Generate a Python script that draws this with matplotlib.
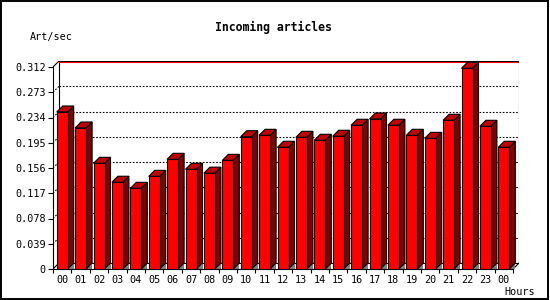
import numpy as np
import matplotlib.pyplot as plt
from matplotlib.patches import Polygon, Rectangle

hours = ['00', '01', '02', '03', '04', '05', '06', '07', '08', '09', '10', '11',
         '12', '13', '14', '15', '16', '17', '18', '19', '20', '21', '22', '23', '00']
art_sec = [0.2425, 0.2178, 0.1632, 0.134, 0.1246, 0.1431, 0.1694, 0.154, 0.148,
           0.1678, 0.2043, 0.2065, 0.188, 0.2034, 0.1988, 0.205, 0.222, 0.2317,
           0.222, 0.2065, 0.2018, 0.2297, 0.310, 0.2204, 0.188]
yticks = [0, 0.039, 0.078, 0.117, 0.156, 0.195, 0.234, 0.273, 0.312]
ylabels = ['0', '0.039', '0.078', '0.117', '0.156', '0.195', '0.234', '0.273', '0.312']

W, H = 550, 300
fig = plt.figure(figsize=(5.5, 3), dpi=100)
fig.patch.set_facecolor('white')

# plot area in pixels: front axis x 53..513, back wall to 519; y 0 at 269, top 61
n = len(hours)
px_unit = 460 / n
depth_px = 6
ymax = yticks[-1]
py_unit = 202 / ymax
dx = depth_px / px_unit
dy = depth_px / py_unit

ax = fig.add_axes([53 / W, 1 - 269 / H, 466 / W, 208 / H])
ax.set_xlim(-0.5, n - 0.5 + dx)
ax.set_ylim(0, ymax + dy)
ax.set_facecolor('none')

mono = 'DejaVu Sans Mono'
lw = 0.8

# axes spines
for s in ['top', 'right']:
    ax.spines[s].set_visible(False)
ax.spines['left'].set_bounds(0, ymax)
ax.spines['bottom'].set_bounds(-0.5, n - 0.5)
ax.spines['left'].set_linewidth(lw)
ax.spines['bottom'].set_linewidth(lw)

ax.set_yticks(yticks)
ax.set_yticklabels(ylabels, fontfamily=mono, fontsize=7.3)
ax.tick_params(axis='y', direction='out', length=3.6, width=lw, pad=1.5)

x = np.arange(n)
ax.set_xticks(x)
ax.set_xticklabels(hours, fontfamily=mono, fontsize=7.3)
ax.tick_params(axis='x', which='major', length=0, pad=4.5)
ax.set_xticks(np.arange(n + 1) - 0.5, minor=True)
ax.tick_params(axis='x', which='minor', direction='out', length=3.2, width=lw)

# back wall and grid
xb0, xb1 = -0.5 + dx, n - 0.5 + dx
for t in yticks[1:-1]:
    ax.plot([xb0, xb1], [t + dy, t + dy], color='black', lw=lw,
            linestyle=(0, (1.5, 1.5)), zorder=1)
    ax.plot([-0.5, xb0], [t, t + dy], color='black', lw=lw,
            linestyle=(0, (1.5, 1.5)), zorder=1)
ax.plot([xb0, xb0], [dy, ymax + dy], color='black', lw=lw, zorder=1)
ax.plot([xb1, xb1], [dy, ymax + dy], color='black', lw=lw, zorder=1)
ax.plot([xb0, xb1], [dy, dy], color='black', lw=lw, zorder=1)
ax.plot([xb0, xb1], [ymax + dy, ymax + dy], color='black', lw=lw, zorder=1)
ax.plot([xb0, xb1], [ymax + dy - 1 / py_unit] * 2, color='red', lw=lw, zorder=1)
ax.plot([-0.5, xb0], [ymax, ymax + dy], color='black', lw=lw, zorder=1)
ax.plot([-0.5, xb0], [0, dy], color='black', lw=lw, zorder=1)
ax.plot([n - 0.5, xb1], [0, dy], color='black', lw=lw, zorder=1)

# 3d bars
bw = 11 / px_unit
for i, v in enumerate(art_sec):
    x0, x1 = i - bw / 2, i + bw / 2
    z = 2 + i * 0.01
    ax.add_patch(Polygon([(x1, 0), (x1 + dx, 0), (x1 + dx, dy)], closed=True,
                         facecolor='#808080', edgecolor='none', zorder=z))
    ax.add_patch(Polygon([(x1, 0), (x1 + dx, dy), (x1 + dx, v + dy), (x1, v)],
                         closed=True, facecolor='#800000', edgecolor='black',
                         lw=lw, zorder=z))
    ax.add_patch(Polygon([(x0, v), (x0 + dx, v + dy), (x1 + dx, v + dy), (x1, v)],
                         closed=True, facecolor='#c00000', edgecolor='black',
                         lw=lw, zorder=z))
ax.bar(x, art_sec, width=bw, color='#ff0000', edgecolor='black', linewidth=lw,
       zorder=3)

fig.text(273 / W, 1 - 27 / H, 'Incoming articles', ha='center', va='center',
         fontfamily=mono, fontweight='bold', fontsize=8.3)
fig.text(30 / W, 1 - 37 / H, 'Art/sec', ha='left', va='center',
         fontfamily=mono, fontsize=7.3)
fig.text(504 / W, 1 - 292 / H, 'Hours', ha='left', va='center',
         fontfamily=mono, fontsize=7.3)

fig.add_artist(Rectangle((0.5 / W, 1.5 / H), 547.5 / W, 298 / H,
                         transform=fig.transFigure, fill=False,
                         edgecolor='black', lw=1.4))

fig.savefig('out.png', dpi=100)
